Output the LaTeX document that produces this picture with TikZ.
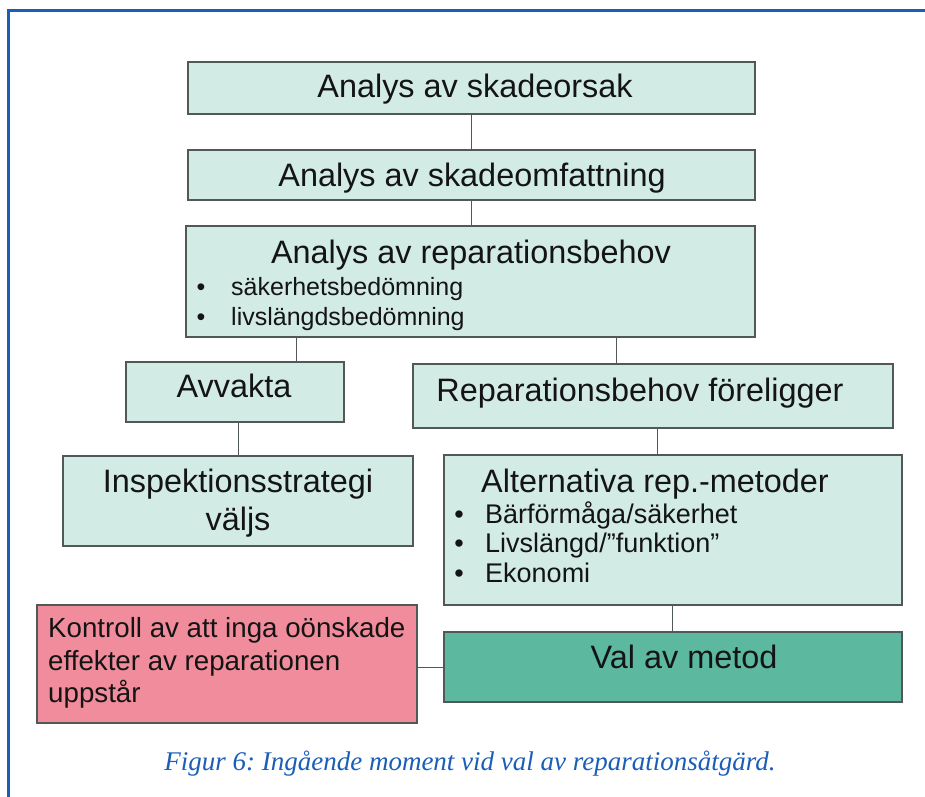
\documentclass[tikz,border=0pt]{standalone}
\usepackage{fontspec}
\setmainfont{Liberation Sans}
\newfontfamily\capfont{Liberation Serif}
\definecolor{boxfill}{HTML}{D3EBE5}
\definecolor{valfill}{HTML}{5DB8A0}
\definecolor{pinkfill}{HTML}{F08C9C}
\definecolor{edge}{HTML}{505858}
\definecolor{frameblue}{HTML}{1A5EB8}
\definecolor{txt}{HTML}{141414}
\frenchspacing
\begin{document}
\begin{tikzpicture}[x=1pt,y=-1pt,
  box/.style={draw=edge, line width=1.1pt, fill=boxfill, inner sep=0pt},
  ttl/.style={anchor=base, text=txt, font=\fontsize{32.4}{36}\selectfont, inner sep=0pt},
  itm/.style={anchor=base west, text=txt, inner sep=0pt},
  bul/.style={anchor=base, text=txt, inner sep=0pt},
  conn/.style={draw=edge, line width=1pt}]
\useasboundingbox (0,0) rectangle (925,796);
\fill[white] (0,0) rectangle (925,796);
% frame
\draw[frameblue, line width=3pt] (8,800) -- (8,10) -- (930,10);
% boxes
\node[box, minimum width=567, minimum height=52] (b1) at (471.5,88) {};
\node[box, minimum width=567, minimum height=50] (b2) at (471.5,175) {};
\node[box, minimum width=569, minimum height=111] (b3) at (470.5,281.5) {};
\node[box, minimum width=218, minimum height=60] (b4) at (235,392) {};
\node[box, minimum width=480, minimum height=64] (b5) at (653,396) {};
\node[box, minimum width=350, minimum height=90] (b6) at (238,501) {};
\node[box, minimum width=458, minimum height=150] (b7) at (673,530) {};
\node[box, fill=pinkfill, minimum width=380, minimum height=118] (b8) at (227,664) {};
\node[box, fill=valfill, minimum width=458, minimum height=70] (b9) at (673,667) {};
% texts
\node[ttl] (t1) at (475,97) {Analys av skadeorsak};
\node[ttl] (t2) at (472,186) {Analys av skadeomfattning};
\node[ttl] (t3) at (471,263) {Analys av reparationsbehov};
\begin{scope}[font=\fontsize{25}{28}\selectfont]
\node[bul] (p31) at (201,295) {•};
\node[itm] (i31) at (231,295) {säkerhetsbedömning};
\node[bul] (p32) at (201,325) {•};
\node[itm] (i32) at (231,325) {livslängdsbedömning};
\end{scope}
\node[ttl] (t4) at (234,397) {Avvakta};
\node[ttl] (t5) at (640,401) {Reparationsbehov föreligger};
\node[ttl] (t6a) at (238,492) {Inspektionsstrategi};
\node[ttl] (t6b) at (238,530) {väljs};
\node[ttl] (t7) at (655,492) {Alternativa rep.-metoder};
\begin{scope}[font=\fontsize{27}{30}\selectfont]
\node[bul] (p71) at (459,523) {•};
\node[itm] (i71) at (485,523) {Bärförmåga/säkerhet};
\node[bul] (p72) at (459,552) {•};
\node[itm] (i72) at (485,552) {Livslängd/”funktion”};
\node[bul] (p73) at (459,582) {•};
\node[itm] (i73) at (485,582) {Ekonomi};
\end{scope}
\begin{scope}[font=\fontsize{27.7}{31}\selectfont]
\node[itm] (k1) at (48,637) {Kontroll av att inga oönskade};
\node[itm] (k2) at (48,670) {effekter av reparationen};
\node[itm] (k3) at (48,702) {uppstår};
\end{scope}
\node[ttl] (t9) at (684,668) {Val av metod};
% connectors
\draw[conn] (b1.south) -- (b2.north);
\draw[conn] (b2.south -| 471,0) -- (b3.north -| 471,0);
\draw[conn] (b3.south -| 296,0) -- (b4.north -| 296,0);
\draw[conn] (b3.south -| 616,0) -- (b5.north -| 616,0);
\draw[conn] (b4.south -| 238,0) -- (b6.north -| 238,0);
\draw[conn] (b5.south -| 657,0) -- (b7.north -| 657,0);
\draw[conn] (b7.south -| 672,0) -- (b9.north -| 672,0);
\draw[conn] (b8.east |- 0,667) -- (b9.west |- 0,667);
% caption
\node[anchor=base, text=frameblue, inner sep=0pt, font=\capfont\itshape\fontsize{27}{30}\selectfont] (cap) at (470,770) {Figur 6: Ingående moment vid val av reparationsåtgärd.};
\end{tikzpicture}
\end{document}
